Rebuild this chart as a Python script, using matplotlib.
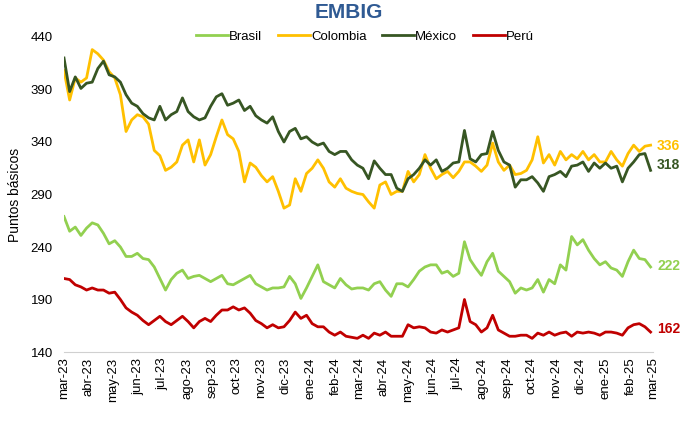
import pandas as pd
import matplotlib.pyplot as plt
import matplotlib.dates as mdates

plt.rcParams['font.family'] = ['Liberation Sans', 'DejaVu Sans']

# weekly readings, 1 mar 2023 -> end feb 2025 (puntos basicos)
dates = pd.date_range('2023-03-01', periods=105, freq='7D')

brasil = [269, 255, 259, 251, 258, 263, 261, 253, 243, 246,
          240, 231, 231, 234, 229, 228, 221, 210, 199, 209,
          215, 218, 210, 212, 213, 210, 207, 210, 213, 205,
          204, 207, 210, 213, 205, 202, 199, 201, 201, 202,
          212, 205, 191, 201, 212, 223, 207, 204, 201, 210,
          204, 200, 201, 201, 199, 205, 207, 199, 193, 205,
          205, 202, 209, 217, 221, 223, 223, 215, 217, 212,
          215, 245, 228, 220, 213, 226, 234, 217, 212, 207,
          196, 201, 199, 201, 209, 197, 209, 205, 223, 218,
          250, 242, 247, 237, 229, 223, 226, 220, 218, 212,
          226, 237, 229, 228, 221]

colombia = [408, 380, 401, 397, 401, 428, 424, 418, 407, 401,
            385, 350, 361, 366, 364, 357, 332, 327, 313, 316,
            321, 337, 342, 321, 342, 318, 328, 345, 361, 347,
            343, 331, 302, 320, 316, 308, 302, 307, 293, 277,
            280, 305, 293, 310, 315, 323, 315, 302, 297, 305,
            296, 293, 291, 290, 283, 277, 299, 302, 290, 293,
            293, 312, 302, 309, 328, 315, 305, 309, 312, 306,
            312, 321, 321, 317, 312, 318, 339, 321, 313, 318,
            309, 310, 313, 323, 345, 320, 328, 318, 331, 323,
            328, 324, 331, 323, 328, 321, 321, 331, 323, 317,
            329, 337, 331, 336, 337]

mexico = [420, 388, 402, 391, 396, 397, 410, 417, 404, 402,
          397, 385, 377, 374, 367, 363, 361, 374, 361, 366,
          369, 382, 369, 364, 361, 363, 374, 383, 386, 375,
          377, 380, 370, 374, 365, 361, 358, 364, 350, 340,
          350, 353, 343, 345, 340, 337, 339, 331, 328, 331,
          331, 323, 318, 315, 305, 322, 315, 309, 309, 296,
          293, 305, 309, 315, 323, 318, 323, 312, 315, 320,
          321, 351, 324, 321, 328, 329, 350, 332, 321, 318,
          297, 304, 304, 307, 301, 293, 307, 309, 312, 307,
          317, 318, 321, 312, 320, 315, 320, 315, 317, 302,
          315, 321, 328, 329, 313]

peru = [210, 209, 204, 202, 199, 201, 199, 199, 196, 197,
        190, 182, 178, 175, 170, 166, 170, 174, 169, 166,
        170, 174, 169, 163, 169, 172, 169, 175, 180, 180,
        183, 180, 182, 177, 170, 167, 163, 166, 163, 164,
        170, 178, 172, 175, 167, 164, 164, 159, 156, 159,
        155, 154, 153, 156, 153, 158, 156, 159, 155, 155,
        155, 166, 163, 164, 163, 159, 158, 161, 159, 161,
        163, 190, 169, 166, 159, 163, 175, 161, 158, 155,
        155, 156, 156, 153, 158, 156, 159, 156, 158, 159,
        155, 159, 158, 159, 158, 156, 159, 159, 158, 156,
        163, 166, 167, 164, 159]

series = [('Brasil', brasil, '#92D050'),
          ('Colombia', colombia, '#FFC000'),
          ('México', mexico, '#375623'),
          ('Perú', peru, '#C00000')]

end_labels = {'Brasil': 222, 'Colombia': 336, 'México': 318, 'Perú': 162}

month_names = ['mar', 'abr', 'may', 'jun', 'jul', 'ago', 'sep', 'oct',
               'nov', 'dic', 'ene', 'feb']
tick_dates = pd.date_range('2023-03-01', '2025-03-01', freq='MS')
tick_labels = [month_names[(d.month - 3) % 12] + '-' + d.strftime('%y') for d in tick_dates]

fig = plt.figure(figsize=(6.98, 4.23), dpi=100)
ax = fig.add_axes([64/698, 71/423, 589/698, 315/423])

for name, vals, color in series:
  ax.plot(dates, vals, color=color, lw=2.0, label=name, solid_joinstyle='round')
  ax.text(dates[-1] + pd.Timedelta(days=8), end_labels[name], str(end_labels[name]),
          color=color, fontsize=10, fontweight='bold', va='center', ha='left')

ax.set_xlim(pd.Timestamp('2023-03-01'), pd.Timestamp('2025-03-01'))
ax.set_ylim(140, 440)
ax.set_yticks(range(140, 441, 50))
ax.set_xticks(tick_dates)
ax.set_xticklabels(tick_labels, rotation=90, fontsize=9.5)
ax.tick_params(axis='y', labelsize=9.5, length=0, pad=8)
ax.tick_params(axis='x', length=0, pad=4)
ax.set_ylabel('Puntos básicos', fontsize=10, labelpad=6)

for s in ['top', 'left', 'right']:
  ax.spines[s].set_visible(False)
ax.spines['bottom'].set_color('#D0D0D0')

fig.text(0.5, 0.97, 'EMBIG', ha='center', va='center', fontsize=15,
         fontweight='bold', color='#2F5A93')
fig.legend(loc='center', bbox_to_anchor=(365/698, 1 - 37/423), ncol=4, frameon=False,
           fontsize=9.5, handlelength=2.4, handletextpad=0.1, columnspacing=1.2)

plt.savefig('out.png', dpi=100)
